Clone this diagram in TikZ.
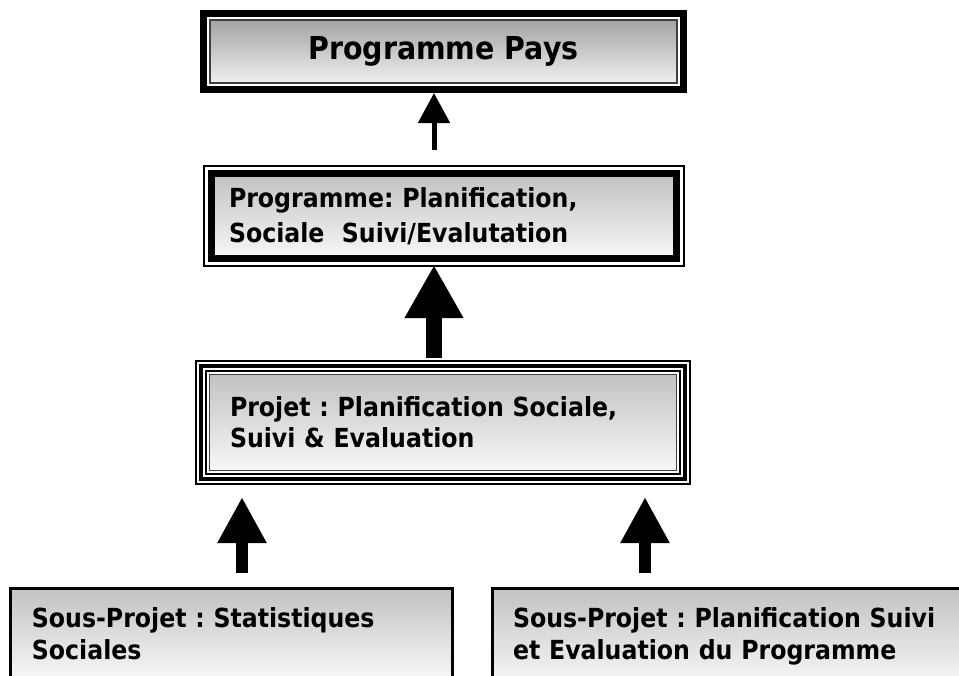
\documentclass[tikz,border=0pt]{standalone}
\usepackage{fontspec}
\setmainfont{DejaVu Sans}[FakeStretch=0.9]
\frenchspacing
\usetikzlibrary{arrows.meta}

% cadre en plus autour d'un noeud : noeud, ecart, epaisseur
\newcommand{\cadre}[3]{\draw[line width=#3] ([shift={(-#2,#2)}]#1.north west) rectangle ([shift={(#2,-#2)}]#1.south east);}

\begin{document}
\begin{tikzpicture}[x=0.75pt, y=-0.75pt,
        every node/.style = {outer sep=0pt, align=left,
                             font=\bfseries\fontsize{19.7}{23.5}\selectfont},
        boite/.style = {rectangle, draw=black!75, line width=0.75pt,
                        top color=black!24, bottom color=black!3},
        flecheA/.style = {line width=3.75pt, -{Triangle[width=23.25pt,length=22.5pt]}},
        flecheB/.style = {line width=12pt, -{Triangle[width=41.25pt,length=39.75pt]}},
        flecheC/.style = {line width=9pt, -{Triangle[width=34.5pt,length=34.5pt]}}]
    \useasboundingbox (0,0) rectangle (959,675);
    \clip (0,0) rectangle (959,675);

    \node[boite, line width=1.1pt, top color=black!36, bottom color=black!6,
          minimum width=350.25pt, minimum height=47.25pt, align=center,
          font=\bfseries\fontsize{23.7}{28}\selectfont] (pays) at (443.5,51.5) {Programme Pays};
    \cadre{pays}{4.875pt}{5.25pt}

    \node[boite, draw=black, line width=5.25pt, text width=322.5pt, inner xsep=13.1pt,
          minimum height=63.75pt, font=\bfseries\fontsize{19.7}{26}\selectfont]
          (prog) at (444,216) {Programme: Planification,\\Sociale\ \ Suivi/Evalutation};
    \cadre{prog}{5.625pt}{1.1pt}

    \node[boite, text width=319.5pt, inner xsep=15.4pt, minimum height=72pt]
          (projet) at (443,422.5) {Projet : Planification Sociale,\\Suivi \& Evaluation};
    \cadre{projet}{2.625pt}{1.5pt}
    \cadre{projet}{6.375pt}{3pt}
    \cadre{projet}{10.125pt}{1.5pt}

    \node[boite, draw=black, line width=2.25pt, anchor=north west, text width=299.3pt,
          inner xsep=16.1pt, inner ysep=14.6pt] (sous1) at (10.5,588.5)
          {Sous-Projet : Statistiques\\Sociales};
    \node[boite, draw=black, line width=2.25pt, anchor=north west, text width=350pt,
          inner xsep=15.4pt, inner ysep=14.6pt] (sous2) at (492.5,588.5)
          {Sous-Projet : Planification Suivi\\et Evaluation du Programme};

    \coordinate (q1) at (434,150);
    \coordinate (q2) at (434,358);
    \coordinate (q3) at (242,573);
    \coordinate (q4) at (645,573);
    \draw[flecheA] (q1) -- ([yshift=-7.5pt]q1 |- pays.south);
    \draw[flecheB] (q2) -- ([yshift=-4.875pt]q2 |- prog.south);
    \draw[flecheC] (q3) -- ([yshift=-19.875pt]q3 |- projet.south);
    \draw[flecheC] (q4) -- ([yshift=-19.875pt]q4 |- projet.south);
\end{tikzpicture}
\end{document}
